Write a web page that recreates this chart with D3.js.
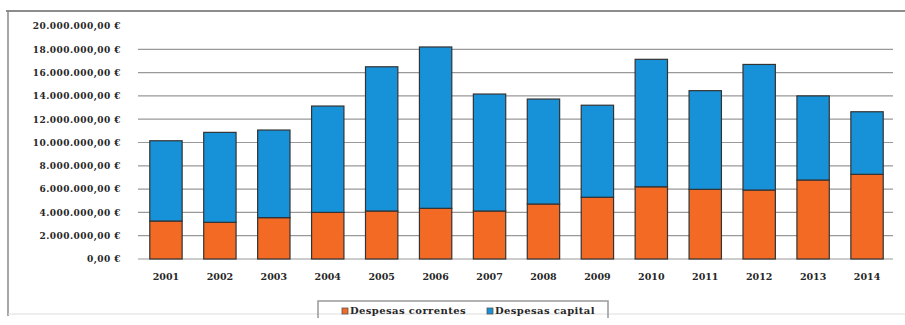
<!DOCTYPE html>
<html>
<head>
<meta charset="utf-8">
<script src="https://cdn.jsdelivr.net/npm/d3@7"></script>
<style>
  html, body { margin: 0; padding: 0; background: #fff; }
  svg text { font-family: "DejaVu Serif", serif; font-weight: bold; fill: #262626; }
</style>
</head>
<body>
<div id="chart"></div>
<script>
var years = ["2001","2002","2003","2004","2005","2006","2007","2008","2009","2010","2011","2012","2013","2014"];
// valores (euros)
var correntes = [3260000,3150000,3550000,4000000,4120000,4350000,4120000,4720000,5300000,6200000,5980000,5920000,6780000,7270000];
var capital = [6890000,7720000,7520000,9130000,12380000,13850000,10040000,9010000,7900000,10940000,8470000,10780000,7220000,5370000];
var yTicks = [0,2000000,4000000,6000000,8000000,10000000,12000000,14000000,16000000,18000000,20000000];
var seriesNames = ["Despesas correntes","Despesas capital"];
var colors = ["#f26a24","#1792d8"];

var w = 905, h = 325;
var plotLeft = 139, plotRight = 894, plotTop = 26, plotBottom = 259;

var svg = d3.select("#chart").append("svg").attr("width", w).attr("height", h);

var locale = d3.formatLocale({decimal: ",", thousands: ".", grouping: [3], currency: ["", " €"]});
var fmt = locale.format("$,.2f");

var rows = years.map(function (y, i) { return {year: y, correntes: correntes[i], capital: capital[i]}; });
var stacked = d3.stack().keys(["correntes","capital"])(rows);

var xScale = d3.scaleBand().domain(years).range([plotLeft, plotRight]).paddingInner(0.4).paddingOuter(0.2);
var yScale = d3.scaleLinear().domain([0, 20000000]).range([plotBottom, plotTop]);

// moldura
svg.append("line").attr("x1", 6).attr("y1", 11).attr("x2", w).attr("y2", 11)
  .attr("stroke", "#666").attr("stroke-width", 1.5);
svg.append("line").attr("x1", 8).attr("y1", 11).attr("x2", 8).attr("y2", 316)
  .attr("stroke", "#888").attr("stroke-width", 1.5);
svg.append("line").attr("x1", 8).attr("y1", 314).attr("x2", w).attr("y2", 314)
  .attr("stroke", "#ddd").attr("stroke-width", 1);

// linhas de grelha
svg.selectAll(".grid").data(yTicks.slice(1, -1)).enter().append("line")
  .attr("x1", plotLeft - 1).attr("x2", plotRight - 1)
  .attr("y1", yScale).attr("y2", yScale)
  .attr("stroke", "#999").attr("stroke-width", 1.2);
svg.append("line").attr("x1", plotLeft - 1).attr("x2", plotRight - 1)
  .attr("y1", yScale(0)).attr("y2", yScale(0))
  .attr("stroke", "#999").attr("stroke-width", 1.2);

// eixo y
var yAxis = d3.axisLeft(yScale).tickValues(yTicks).tickFormat(fmt).tickSize(0).tickPadding(0);
var gy = svg.append("g").attr("transform", "translate(121,0)").call(yAxis);
gy.select(".domain").remove();
gy.selectAll("text").attr("font-size", 9).attr("letter-spacing", "0.45px").attr("fill", "#262626");

// barras
var layers = svg.selectAll(".layer").data(stacked).enter().append("g")
  .attr("fill", function (d, i) { return colors[i]; });
layers.selectAll("rect").data(function (d) { return d; }).enter().append("rect")
  .attr("x", function (d) { return xScale(d.data.year); })
  .attr("width", xScale.bandwidth())
  .attr("y", function (d) { return yScale(d[1]); })
  .attr("height", function (d) { return yScale(d[0]) - yScale(d[1]); })
  .attr("stroke", "#333").attr("stroke-width", 1.2);

// eixo x
var xAxis = d3.axisBottom(xScale).tickSize(0).tickPadding(0);
var gx = svg.append("g").attr("transform", "translate(0,273)").call(xAxis);
gx.select(".domain").remove();
gx.selectAll("text").attr("font-size", 9.5).attr("fill", "#262626").attr("dy", "0.71em");

// legenda
svg.append("path").attr("d", "M318,318 L318,301 L608,301 L608,318")
  .attr("fill", "none").attr("stroke", "#999").attr("stroke-width", 1.5);
var legX = [342, 487];
seriesNames.forEach(function (name, i) {
  svg.append("rect").attr("x", legX[i]).attr("y", 308).attr("width", 6).attr("height", 6)
    .attr("fill", colors[i]).attr("stroke", "#555").attr("stroke-width", 0.8);
  svg.append("text").attr("x", legX[i] + 8).attr("y", 314).attr("font-size", 10)
    .attr("letter-spacing", "0.4px").text(name);
});
</script>
</body>
</html>
